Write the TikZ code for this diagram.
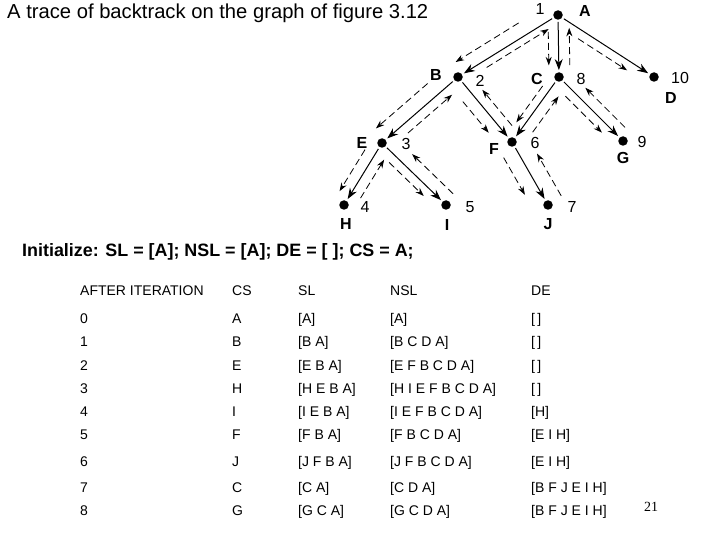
\documentclass[tikz,border=0pt]{standalone}
\usepackage{fontspec}
\setmainfont{Liberation Sans}
\newfontfamily\timesf{Liberation Serif}
\usetikzlibrary{arrows.meta,calc}
% descent arrow: parent, child, start fraction, end fraction, offset
\newcommand\trav[5]{\draw[dn] ($(#1)!#3!(#2)!#5pt!-90:(#2)$) -- ($(#1)!#4!(#2)!#5pt!-90:(#2)$);}
% return arrow: parent, child, start fraction (near child), end fraction (near parent), offset
\newcommand\back[5]{\draw[dn] ($(#1)!#3!(#2)!#5pt!90:(#2)$) -- ($(#1)!#4!(#2)!#5pt!90:(#2)$);}
\begin{document}
\begin{tikzpicture}[x=1pt,y=-1pt,
  dot/.style={circle,fill=black,inner sep=0pt,minimum size=9.5pt},
  tree/.style={-{Stealth[length=11pt,width=8pt]},line width=1pt,shorten >=2pt,shorten <=2pt},
  dn/.style={dash pattern=on 7pt off 4pt,-{Stealth[length=8.5pt,width=6pt]},line width=0.8pt},
  num/.style={font=\fontsize{16}{16}\selectfont,inner sep=0pt},
  let/.style={font=\bfseries\fontsize{16}{16}\selectfont,inner sep=0pt},
  cell/.style={font=\fontsize{14}{14}\selectfont,inner sep=0pt,anchor=base west}
]
\useasboundingbox (0,0) rectangle (720,540);
\node[anchor=base west,inner sep=0pt,font=\fontsize{20.2}{21}\selectfont] (title) at (7,19) {A trace of backtrack on the graph of figure 3.12};
% graph nodes
\node[dot] (A) at (558,15) {};
\node[dot] (B) at (458,77) {};
\node[dot] (C) at (559,77) {};
\node[dot] (D) at (654,77) {};
\node[dot] (E) at (382,143) {};
\node[dot] (F) at (512,142) {};
\node[dot] (G) at (623,141) {};
\node[dot] (H) at (344,205) {};
\node[dot] (I) at (446,205) {};
\node[dot] (J) at (548,205) {};
% labels
\node[num] (nA) at (540,9) {1};  \node[let] (lA) at (585,11) {A};
\node[num] (nB) at (480,81) {2}; \node[let] (lB) at (436,75) {B};
\node[num] (nC) at (581,79) {8}; \node[let] (lC) at (537,79) {C};
\node[num] (nD) at (680,78) {10}; \node[let] (lD) at (671,98) {D};
\node[num] (nE) at (406,144) {3}; \node[let] (lE) at (362,143) {E};
\node[num] (nF) at (535,143) {6}; \node[let] (lF) at (494,149) {F};
\node[num] (nG) at (642,142) {9}; \node[let] (lG) at (623,158) {G};
\node[num] (nH) at (365,207) {4}; \node[let] (lH) at (346,224) {H};
\node[num] (nI) at (470,207) {5}; \node[let] (lI) at (447,225) {I};
\node[num] (nJ) at (572,207) {7}; \node[let] (lJ) at (548,224) {J};
% tree edges
\foreach \p/\c in {A/B,A/C,A/D,B/E,B/F,C/F,C/G,E/H,E/I,F/J}{\draw[tree] (\p) -- (\c);}
% descent (dashed) arrows
\trav{A}{B}{0.32}{0.95}{14}
\trav{A}{C}{0.27}{0.81}{10}
\trav{A}{D}{0.26}{0.77}{9}
\trav{B}{E}{0.27}{0.95}{15}
\trav{B}{F}{0.26}{0.74}{12}
\trav{C}{F}{0.21}{0.77}{8}
\trav{C}{G}{0.2}{0.77}{9}
\trav{E}{H}{0.2}{0.87}{11}
\trav{E}{I}{0.21}{0.75}{9}
\trav{F}{J}{0.13}{0.72}{15}
% return (dashed) arrows
\back{A}{B}{0.75}{0.13}{7}
\back{A}{C}{0.81}{0.21}{11}
\back{B}{E}{0.74}{0.16}{9.5}
\back{B}{F}{0.85}{0.3}{10.5}
\back{C}{F}{0.75}{0.2}{11}
\back{C}{G}{0.91}{0.29}{11}
\back{E}{H}{0.8}{0.18}{10.5}
\back{E}{I}{0.97}{0.33}{13}
\back{F}{J}{0.98}{0.31}{16}
% initialize
\node[anchor=base west,inner sep=0pt,font=\bfseries\fontsize{17.9}{18}\selectfont] (init) at (22,256) {Initialize: SL = [A]; NSL = [A]; DE = [ ]; CS = A;};
% table
\node[cell] (h1) at (80,295) {AFTER ITERATION};
\node[cell] (h2) at (232,295) {CS};
\node[cell] (h3) at (298,295) {SL};
\node[cell] (h4) at (390,295) {NSL};
\node[cell] (h5) at (531,295) {DE};
\foreach \y/\n/\cs/\sl/\nsl/\de in {
 318/0/A/[A]/[A]/[\,],
 341/1/B/[B A]/[B C D A]/[\,],
 365/2/E/[E B A]/[E F B C D A]/[\,],
 388/3/H/[H E B A]/[H I E F B C D A]/[\,],
 411/4/I/[I E B A]/[I E F B C D A]/[H],
 434/5/F/[F B A]/[F B C D A]/[E I H],
 461/6/J/[J F B A]/[J F B C D A]/[E I H],
 487/7/C/[C A]/[C D A]/[B F J E I H],
 510/8/G/[G C A]/[G C D A]/[B F J E I H]}{
 \node[cell] (r\n a) at (80,\y+5) {\n};
 \node[cell] (r\n b) at (232,\y+5) {\cs};
 \node[cell] (r\n c) at (298,\y+5) {\sl};
 \node[cell] (r\n d) at (390,\y+5) {\nsl};
 \node[cell] (r\n e) at (531,\y+5) {\de};
}
\node[anchor=base west,inner sep=0pt,font=\timesf\fontsize{14}{14}\selectfont] (pg) at (644,511) {21};
\end{tikzpicture}
\end{document}
